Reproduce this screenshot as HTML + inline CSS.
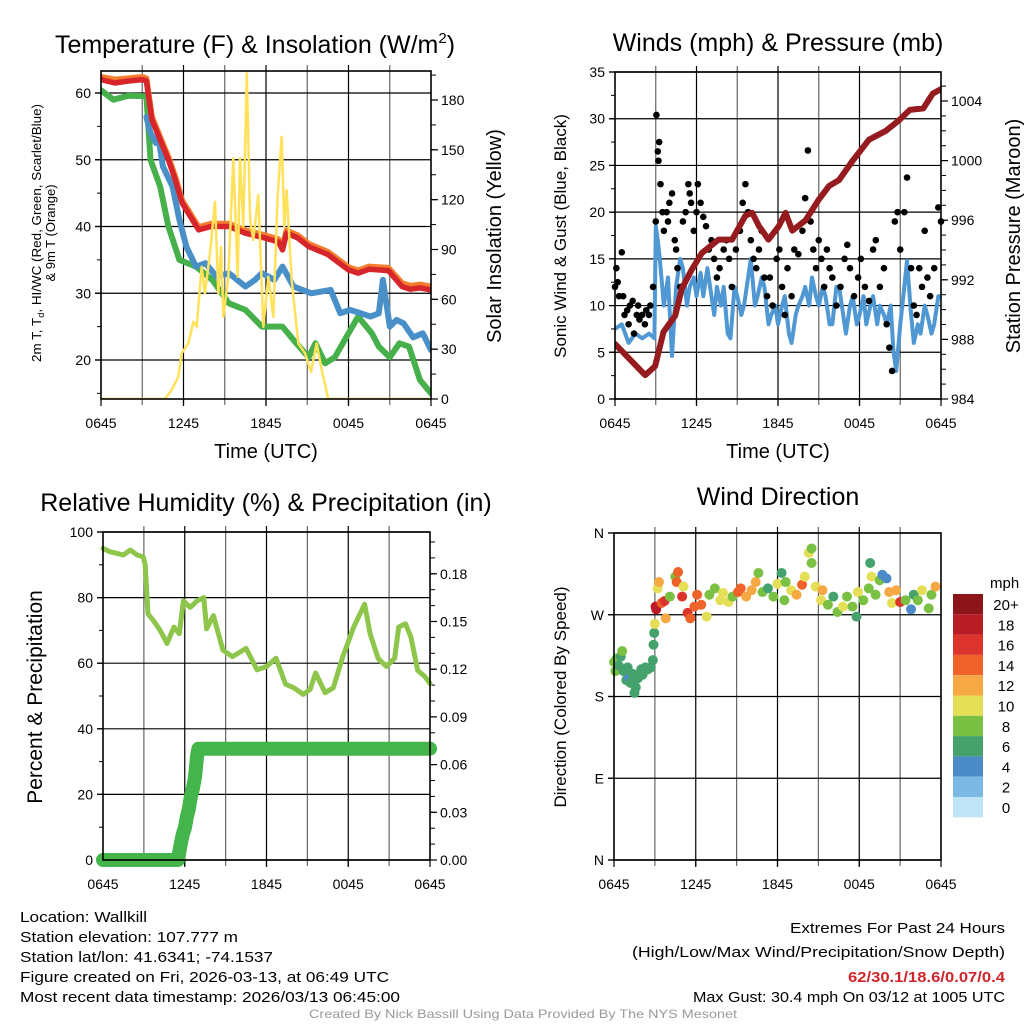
<!DOCTYPE html>
<html><head><meta charset="utf-8">
<style>
html,body{margin:0;padding:0;background:#fff;}
svg{display:block;font-family:"Liberation Sans",Arial,sans-serif;}
</style></head>
<body>
<svg id="chart" width="1024" height="1024" viewBox="0 0 1024 1024" xmlns="http://www.w3.org/2000/svg">
<rect x="0" y="0" width="1024" height="1024" fill="#fff"/>
</svg>
<script>
// ---------- Panel 1: temperature & insolation ----------
const tempH = [0,1,2,3,3.3,3.7,4.3,4.9,5.4,5.9,6.5,7.1,8,9.3,10.5,11.7,12.9,13.2,13.5,14.3,15.1,16.5,18,18.7,19.5,20.9,21.9,22.5,23.2,24];
const tempV = [62,61.5,61.8,62,61.8,56,53,50,47,43.5,41.5,39.5,40,40,39,38.4,37.7,36.5,39,38.3,37,35.8,33.5,33,33.6,33.4,31,30.6,30.8,30.5];
const t9V = [62.4,62,62.2,62.4,62.2,56.4,53.4,50.4,47.4,43.9,41.9,39.9,40.4,40.4,39.4,38.8,38.1,36.9,39.4,38.7,37.4,36.2,33.9,33.4,34,33.8,31.5,31.1,31.3,31];
const wcH = [3.3,3.6,4.0,4.2,4.5,5.2,5.7,6.2,6.9,7.6,8.4,9.3,10.5,11.2,11.7,12.6,13.2,14,15.3,16.7,17.4,18.1,18.9,19.6,20.2,20.5,21,21.5,22,22.7,23.4,24];
const wcV = [56.4,54,52.5,53,49,46,41,37,34,34.5,32.5,33,31,32,33,32,34,31,30,30.5,27,27.5,27,26.5,27,32,25,26,25.5,23.4,24,21.5];
const tdH = [0,0.9,2,3.3,3.6,4.3,4.9,5.7,6.9,8.1,9.3,10.5,11.7,13.2,14,15.1,15.6,16.3,17,18,18.7,19.7,20.2,21,21.7,22.4,23.2,24];
const tdV = [60.4,59,59.6,59.5,50,46,40,35,34,32,28.5,27.5,25,25,23,20.4,22.5,19.5,20.4,24,26.5,24,22,20.4,22.5,22,17,15];
const solH = [0,4.65,5.14,5.62,5.87,6.35,6.72,6.96,7.32,7.56,7.93,8.29,8.53,8.73,8.9,9.26,9.62,9.94,10.1,10.35,10.6,10.84,11.08,11.44,11.8,12.17,12.53,12.85,13.14,13.33,13.5,13.87,14.35,14.84,15.27,15.68,16.05,16.53,24];
const solV = [0,0,5.4,13.4,27.5,33.5,46.5,43.5,79.6,63.6,87.7,118.8,63.6,91.7,49.5,73.6,144.9,73.6,144.9,103.7,196,107.8,95.7,122.8,43.5,73.6,49.5,122.8,157.9,103.7,125.8,71.6,33.5,27.5,16.4,33.5,17.5,0,0];
const p1LeftTicks = [20,30,40,50,60];
const p1RightTicks = [0,30,60,90,120,150,180];
const timeTicks = ["0645","1245","1845","0045","0645"];
const timeTickH = [0,6,12,18,24];

// ---------- Panel 2: winds & pressure ----------
const presH = [0,2.22,2.95,3.57,4.43,4.92,5.66,6.4,7.63,8.62,9.6,10.1,10.6,11.3,12.06,12.55,13.05,14.03,15.02,15.76,16.5,17.5,18.7,19.94,20.9,21.7,22.7,23.4,24];
const presV = [987.7,985.6,986.2,988.5,989.6,991.4,992.7,993.8,994.7,994.7,996.3,996.5,995.6,994.7,995.6,996.5,995.3,996,997.4,998.3,998.7,1000,1001.4,1002,1002.7,1003.4,1003.5,1004.5,1004.8];
const windH = [0,0.5,1,1.5,2,2.5,2.9,3.0,3.15,3.3,3.6,3.9,4.2,4.5,4.8,5,5.3,5.5,5.8,6,6.3,6.5,6.8,7,7.3,7.5,7.8,8,8.3,8.5,8.8,9,9.3,9.5,9.8,10,10.3,10.5,10.8,11,11.3,11.5,11.8,12,12.3,12.5,12.8,13,13.3,13.5,13.8,14,14.3,14.5,14.8,15,15.3,15.5,15.8,16,16.3,16.5,16.8,17,17.3,17.5,17.8,18,18.3,18.5,18.8,19,19.3,19.5,19.8,20,20.3,20.5,20.7,21,21.3,21.5,21.8,22,22.3,22.5,22.8,23,23.3,23.5,23.8,24];
const windV = [7.5,8,6,7,6.5,7,6.5,18.5,17,15,10,13,4.6,12,15,14,10,12,13,11,13.5,11,14,12,9,12,10,12,7,6.5,12,11,9,10,13,15,10,11,13,12,8,9,10,8,10,11,7,6,9,10,11,12,10,13,11,10,12,11,8,8,12,12,9,7,10,11,8,9,11,8,10,11,8,10,9,8,10,5,3,8,12,14.8,9,6,8,7,10,9,7,8,11,11];
const gustH = [0,0.1,0.2,0.3,0.5,0.6,0.7,0.9,1,1.1,1.3,1.4,1.6,1.7,1.8,2,2.2,2.3,2.5,2.6,2.8,3,3.05,3.15,3.2,3.25,3.35,3.5,3.6,3.8,3.9,4,4.2,4.4,4.5,4.6,4.8,5,5.2,5.4,5.5,5.6,5.8,6,6.1,6.3,6.5,6.7,6.9,7.1,7.3,7.5,7.7,8,8.2,8.4,8.6,8.9,9.2,9.4,9.6,9.8,10,10.2,10.4,10.6,10.8,11,11.2,11.4,11.6,11.9,12.1,12.3,12.5,12.7,13,13.2,13.5,13.8,14,14.2,14.4,14.6,14.8,15,15.2,15.4,15.6,15.8,16,16.3,16.6,16.9,17.1,17.3,17.6,17.9,18.1,18.4,18.7,19,19.2,19.5,19.8,20,20.2,20.4,20.6,20.8,21,21.3,21.5,21.8,22,22.2,22.4,22.6,22.8,23,23.2,23.5,23.8,24];
const gustV = [12,14,12.5,11,15.7,11,9,9.5,8,10,10.5,7,9,10,8.5,9,8,9.5,9,10,12,19,30.4,26.5,25.5,27.5,23,20,18,20,19,21,22,17,16,14,12,19,20,23,22,21,18,20,23,21,19.5,18.5,16,17,15,13,14,16,17,15,12,16,18,21,23,20,17,15,14,16,18,13,11,13,10,15,16,12,9,14,11,16,15.5,18,21.5,26.6,19,16,14,17,15,12,16,14,13,10,12,15,16.5,14,11,13,15,12,10.5,16,17,12,14,8,5.5,3,19,20,16,20,23.7,14,10,9,14,12,18,13,11,14,20.5,19];
const p2LeftTicks = [0,5,10,15,20,25,30,35];
const p2RightTicks = [984,988,992,996,1000,1004];

// ---------- Panel 3: RH & precipitation ----------
const rhH = [0,0.5,1,1.5,2,2.5,2.96,3.1,3.3,3.7,4.2,4.7,5.2,5.6,5.9,6.4,6.9,7.4,7.6,8.1,8.8,9.5,10.5,11.3,12,12.7,13.4,14,14.7,15.2,15.6,16.3,16.9,17.6,18.4,19.2,19.6,20.2,20.8,21.4,21.7,22.2,22.6,23.1,23.6,24];
const rhV = [95,94,93.5,93,94.5,93,92.4,90,75,73,70,66,71,69,79,77,79,80,70.5,74.5,64,62,64.5,58,59,61.5,53.6,52.5,50.5,52,57,51,52.5,62,71,78,69,61.4,59,61.5,71,72,68,57.8,56,53.8];
const prH = [0,5.5,5.7,5.85,6.0,6.15,6.3,6.45,6.6,6.75,6.9,7.0,24];
const prV = [0,0,0.010,0.016,0.020,0.027,0.032,0.040,0.045,0.052,0.065,0.070,0.070];
const p3LeftTicks = [0,20,40,60,80,100];
const p3RightTicks = ["0.00","0.03","0.06","0.09","0.12","0.15","0.18"];

// ---------- Panel 4: wind direction ----------
const dirH = [0,0.1,0.2,0.35,0.5,0.6,0.7,0.8,0.9,1.0,1.1,1.2,1.35,1.5,1.6,1.75,1.9,2.0,2.1,2.3,2.5,2.7,2.85,2.9,2.95,3.0,3.05,3.1,3.2,3.3,3.5,3.7,3.8,4.1,4.5,4.6,4.7,5,5.1,5.4,5.6,5.9,6.1,6.4,6.8,7.0,7.4,7.8,8.0,8.4,8.7,9.1,9.3,9.7,10.1,10.4,10.6,10.9,11.3,11.7,12.0,12.3,12.5,12.6,13.0,13.4,13.8,14.0,14.3,14.5,14.5,14.8,15.2,15.3,15.7,16.1,16.4,16.8,17.1,17.5,17.8,17.9,18.3,18.7,18.8,18.9,19.2,19.5,19.7,20.0,20.2,20.4,20.7,21.0,21.4,21.8,22.0,22.3,22.6,23.1,23.3,23.6];
const dirDeg = [218,208,222,214,224,230,208,210,198,212,200,195,205,184,190,200,205,210,204,212,210,212,220,237,250,260,279,276,299,306,283,285,266,290,312,306,317,290,301,272,266,279,292,281,268,292,299,286,294,284,290,295,299,290,297,306,316,295,299,290,304,316,286,306,297,292,303,312,338,343,327,301,286,297,281,290,273,279,290,279,268,295,286,299,327,312,292,308,314,310,295,283,297,284,286,276,292,286,297,277,292,301];
const dirSpd = [8,9,8,7,7,8,7,6,6,6,5,6,6,6,6,6,6,6,6,6,6,6,6,6,6,10,19,18,10,12,15,16,12,8,8,14,15,16,10,16,15,15,15,14,10,8,8,10,10,10,8,15,15,12,12,12,8,8,6,8,10,6,8,8,10,12,15,10,10,8,8,10,10,12,8,6,8,10,8,8,6,10,8,8,6,10,8,8,4,5,12,10,12,16,8,4,6,8,10,8,8,12];
const dirLabels = ["N","E","S","W","N"];
const dirLabelDeg = [0,90,180,270,360];
const speedBins = ["0","2","4","6","8","10","12","14","16","18","20+"];
const speedColors = ["#bfe4f6","#7db9e5","#4a8bc8","#45a26c","#7ac143","#e5df57","#f5a843","#ef6229","#dc342c","#b91c24","#8b1519"];

// ================= drawing =================
const svg = document.getElementById('chart');
const NS = 'http://www.w3.org/2000/svg';
function mk(tag, attrs, parent){
  const e = document.createElementNS(NS, tag);
  for (const k in attrs) e.setAttribute(k, attrs[k]);
  (parent||svg).appendChild(e);
  return e;
}
function txt(str, x, y, size, anchor, parent, extra){
  const a = {x:x, y:y, 'font-size':size, 'text-anchor':anchor||'middle', fill:'#000'};
  if (extra) for (const k in extra) a[k]=extra[k];
  const t = mk('text', a, parent);
  t.textContent = str;
  return t;
}
function scale(d0,d1,r0,r1){ return v => r0 + (v-d0)/(d1-d0)*(r1-r0); }

function panelFrame(g, P, xs, nameBase){
  for (let h=3; h<24; h+=3){
    const l = mk('line',{x1:xs(h),x2:xs(h),y1:P.T-6,y2:P.B+6,stroke:(h%6===0)?'#000':'#666','stroke-width':1.2},g);
    
    
  }
  for (let i=0;i<timeTickH.length;i++){
    const x = xs(timeTickH[i]);
    const tk = mk('line',{x1:x,x2:x,y1:P.B,y2:P.B+7,stroke:'#000','stroke-width':1.2},g);
    
    
    const t = txt(timeTicks[i], x, P.B+29, 14, 'middle', g);
    
    
  }
}
function yGridTicks(g, P, ticks, ys, labels, side, nameBase, grid){
  for (let i=0;i<ticks.length;i++){
    const y = ys(ticks[i]);
    if (grid){
      const gl = mk('line',{x1:P.L-6,x2:P.R,y1:y,y2:y,stroke:'#000','stroke-width':1.2},g);
      
      
    }
    const x0 = side==='left'?P.L-6:P.R, x1 = side==='left'?P.L:P.R+7;
    const tk = mk('line',{x1:x0,x2:x1,y1:y,y2:y,stroke:'#000','stroke-width':1.2},g);
    
    
    const t = side==='left' ? txt(labels[i], P.L-10, y+5, 14, 'end', g) : txt(labels[i], P.R+10, y+5, 14, 'start', g);
    
    
  }
}
function minorTicks(g, P, ys, from, to, step, side){
  for (let v=from; v<=to+1e-9; v+=step){
    const y = ys(v);
    if (y<P.T-0.5||y>P.B+0.5) continue;
    const x0 = side==='left'?P.L-4:P.R, x1 = side==='left'?P.L:P.R+5;
    const tk = mk('line',{x1:x0,x2:x1,y1:y,y2:y,stroke:'#000','stroke-width':1},g);
    
    
  }
}
function border(g,P,name){
  const r = mk('rect',{x:P.L,y:P.T,width:P.R-P.L,height:P.B-P.T,fill:'none',stroke:'#000','stroke-width':1.6},g);
  
  
}
function linePath(H,V,xs,ys){
  let d='';
  for (let i=0;i<H.length;i++) d += (i?'L':'M')+xs(H[i]).toFixed(1)+','+ys(V[i]).toFixed(1);
  return d;
}

// ---- Panel 1
{
  const P={L:101,R:431,T:71,B:399};
  const g = mk('g',{});
  
  
  const xs = scale(0,24,P.L,P.R);
  const ys = scale(20,60,360,93);
  const yr = scale(0,180,399,100);
  panelFrame(g,P,xs,'temp');
  yGridTicks(g,P,p1LeftTicks,ys,p1LeftTicks.map(String),'left','temp',true);
  minorTicks(g,P,ys,15,65,5,'left');
  yGridTicks(g,P,p1RightTicks,yr,p1RightTicks.map(String),'right','temp',false);
  minorTicks(g,P,yr,0,195,15,'right');
  const clip = mk('clipPath',{id:'c1'},g);
  mk('rect',{x:P.L,y:P.T,width:P.R-P.L,height:P.B-P.T},clip);
  const series = [
    ['dewpoint-line',tdH,tdV,'#46b04a',ys,6],
    ['wind-chill-line',wcH,wcV,'#4a90c8',ys,6],
    ['temp-9m-line',tempH,t9V,'#f47d30',ys,6],
    ['temp-2m-line',tempH,tempV,'#d7262b',ys,5.5],
    ['insolation-line',solH,solV,'#ffe15a',yr,2.5]
  ];
  for (const s of series){
    const p = mk('path',{d:linePath(s[1],s[2],xs,s[4]),fill:'none',stroke:s[3],'stroke-width':s[5],'stroke-linejoin':'round','stroke-linecap':'round','clip-path':'url(#c1)'},g);
    
    
  }
  border(g,P,'temp-plot-frame');
  const t = txt('Temperature (F) & Insolation (W/m',255,53,25,'middle',g);
  
  
  const ts = mk('tspan',{dy:-10,'font-size':15},t); ts.textContent='2';
  const ts2 = mk('tspan',{dy:10},t); ts2.textContent=')';
  const xt = txt('Time (UTC)',266,458,20,'middle',g);
  
  
  const yl1 = txt('',0,0,13,'middle',g,{transform:'translate(41,233) rotate(-90)',textLength:258,lengthAdjust:'spacingAndGlyphs'});
  
  
  yl1.textContent='2m T, T';
  const sub = mk('tspan',{'font-size':9,dy:3},yl1); sub.textContent='d';
  const rest = mk('tspan',{dy:-3},yl1); rest.textContent=', HI/WC (Red, Green, Scarlet/Blue)';
  const yl2 = txt('& 9m T (Orange)',0,0,13,'middle',g,{transform:'translate(55,233) rotate(-90)'});
  
  
  const yr1 = txt('Solar Insolation (Yellow)',0,0,20,'middle',g,{transform:'translate(501,236) rotate(-90)'});
  
  
}

// ---- Panel 2
{
  const P={L:615,R:941,T:72,B:399};
  const g = mk('g',{});
  
  
  const xs = scale(0,24,P.L,P.R);
  const ys = scale(0,35,399,72);
  const yr = scale(984,1004,399,101);
  panelFrame(g,P,xs,'wind');
  yGridTicks(g,P,p2LeftTicks,ys,p2LeftTicks.map(String),'left','wind',true);
  minorTicks(g,P,ys,0,35,2.5,'left');
  yGridTicks(g,P,p2RightTicks,yr,p2RightTicks.map(String),'right','wind',false);
  minorTicks(g,P,yr,984,1006,1,'right');
  const clip = mk('clipPath',{id:'c2'},g);
  mk('rect',{x:P.L,y:P.T,width:P.R-P.L,height:P.B-P.T},clip);
  const wl = mk('path',{d:linePath(windH,windV,xs,ys),fill:'none',stroke:'#4f98d3','stroke-width':4,'stroke-linejoin':'round','clip-path':'url(#c2)'},g);
  
  
  for (let i=0;i<gustH.length;i++){
    const c = mk('circle',{cx:xs(gustH[i]),cy:ys(gustV[i]),r:3.3,fill:'#000'},g);
    
    
  }
  const pl = mk('path',{d:linePath(presH,presV,xs,yr),fill:'none',stroke:'#951b1e','stroke-width':6,'stroke-linejoin':'round','stroke-linecap':'round','clip-path':'url(#c2)'},g);
  
  
  border(g,P,'wind-plot-frame');
  const t = txt('Winds (mph) & Pressure (mb)',778,51,25,'middle',g);
  
  
  const xt = txt('Time (UTC)',778,458,20,'middle',g);
  
  
  const yl = txt('Sonic Wind & Gust (Blue, Black)',0,0,17,'middle',g,{transform:'translate(566,236) rotate(-90)'});
  
  
  const yr1 = txt('Station Pressure (Maroon)',0,0,20,'middle',g,{transform:'translate(1020,236) rotate(-90)'});
  
  
}

// ---- Panel 3
{
  const P={L:103,R:430,T:532,B:860};
  const g = mk('g',{});
  
  
  const xs = scale(0,24,P.L,P.R);
  const ys = scale(0,100,860,532);
  const yr = scale(0,0.03,860,812.3);
  panelFrame(g,P,xs,'rh');
  yGridTicks(g,P,p3LeftTicks,ys,p3LeftTicks.map(String),'left','rh',true);
  minorTicks(g,P,ys,0,100,10,'left');
  yGridTicks(g,P,p3RightTicks.map(Number),yr,p3RightTicks,'right','rh',false);
  minorTicks(g,P,yr,0,0.2,0.01,'right');
  const clip = mk('clipPath',{id:'c3'},g);
  mk('rect',{x:P.L-8,y:P.T,width:P.R-P.L+16,height:P.B-P.T+8},clip);
  const rl = mk('path',{d:linePath(rhH,rhV,xs,ys),fill:'none',stroke:'#8dc64a','stroke-width':5,'stroke-linejoin':'round','stroke-linecap':'round'},g);
  
  
  const pr = mk('path',{d:linePath(prH,prV,xs,yr),fill:'none',stroke:'#44b54a','stroke-width':14,'stroke-linejoin':'round','stroke-linecap':'round','clip-path':'url(#c3)'},g);
  
  
  border(g,P,'rh-plot-frame');
  const t = txt('Relative Humidity (%) & Precipitation (in)',266,511,25,'middle',g);
  
  
  const yl = txt('Percent & Precipitation',0,0,21,'middle',g,{transform:'translate(42,697) rotate(-90)'});
  
  
}

// ---- Panel 4
{
  const P={L:614,R:941,T:533,B:860};
  const g = mk('g',{});
  
  
  const xs = scale(0,24,P.L,P.R);
  const ys = scale(0,360,860,533);
  panelFrame(g,P,xs,'dir');
  yGridTicks(g,P,dirLabelDeg,ys,dirLabels,'left','dir',true);
  for (let i=0;i<dirH.length;i++){
    const bin = Math.min(10, Math.max(0, Math.floor(dirSpd[i]/2)));
    const c = mk('circle',{cx:xs(dirH[i]),cy:ys(dirDeg[i]),r:5,fill:speedColors[bin]},g);
    
    
  }
  border(g,P,'dir-plot-frame');
  const t = txt('Wind Direction',778,505,25,'middle',g);
  
  
  const yl = txt('Direction (Colored By Speed)',0,0,17,'middle',g,{transform:'translate(566,697) rotate(-90)'});
  
  
  const lg = mk('g',{},g);
  
  
  const lt = txt('mph',990,588,15,'start',lg);
  
  
  for (let i=0;i<speedBins.length;i++){
    const k = speedBins.length-1-i;
    const y = 594 + i*20.3;
    const r = mk('rect',{x:953,y:y,width:30,height:20.3,fill:speedColors[k]},lg);
    
    
    const lb = txt(speedBins[k],1006,y+16,15,'middle',lg);
    
    
  }
}
</script>
<div style="position:absolute;left:0;top:0;width:1024px;height:1024px;pointer-events:none;font-family:'Liberation Sans',Arial,sans-serif;">
<svg width="1024" height="1024" xmlns="http://www.w3.org/2000/svg" style="position:absolute;left:0;top:0">
<g font-size="15" fill="#000" font-family="Liberation Sans, Arial, sans-serif">
<text x="20" y="922" textLength="127" lengthAdjust="spacingAndGlyphs">Location: Wallkill</text>
<text x="20" y="942" textLength="218" lengthAdjust="spacingAndGlyphs">Station elevation: 107.777 m</text>
<text x="20" y="962" textLength="253" lengthAdjust="spacingAndGlyphs">Station lat/lon: 41.6341; -74.1537</text>
<text x="20" y="982" textLength="369" lengthAdjust="spacingAndGlyphs">Figure created on Fri, 2026-03-13, at 06:49 UTC</text>
<text x="20" y="1002" textLength="380" lengthAdjust="spacingAndGlyphs">Most recent data timestamp: 2026/03/13 06:45:00</text>
<text x="790" y="933" textLength="215" lengthAdjust="spacingAndGlyphs">Extremes For Past 24 Hours</text>
<text x="632" y="957" textLength="373" lengthAdjust="spacingAndGlyphs">(High/Low/Max Wind/Precipitation/Snow Depth)</text>
<text x="848" y="982" textLength="157" lengthAdjust="spacingAndGlyphs" fill="#d0262b" font-weight="bold">62/30.1/18.6/0.07/0.4</text>
<text x="693" y="1002" textLength="312" lengthAdjust="spacingAndGlyphs">Max Gust: 30.4 mph On 03/12 at 1005 UTC</text>
<text x="309" y="1018" font-size="12" fill="#999" textLength="428" lengthAdjust="spacingAndGlyphs">Created By Nick Bassill Using Data Provided By The NYS Mesonet</text>
</g>
</svg>
</div>
</body></html>
